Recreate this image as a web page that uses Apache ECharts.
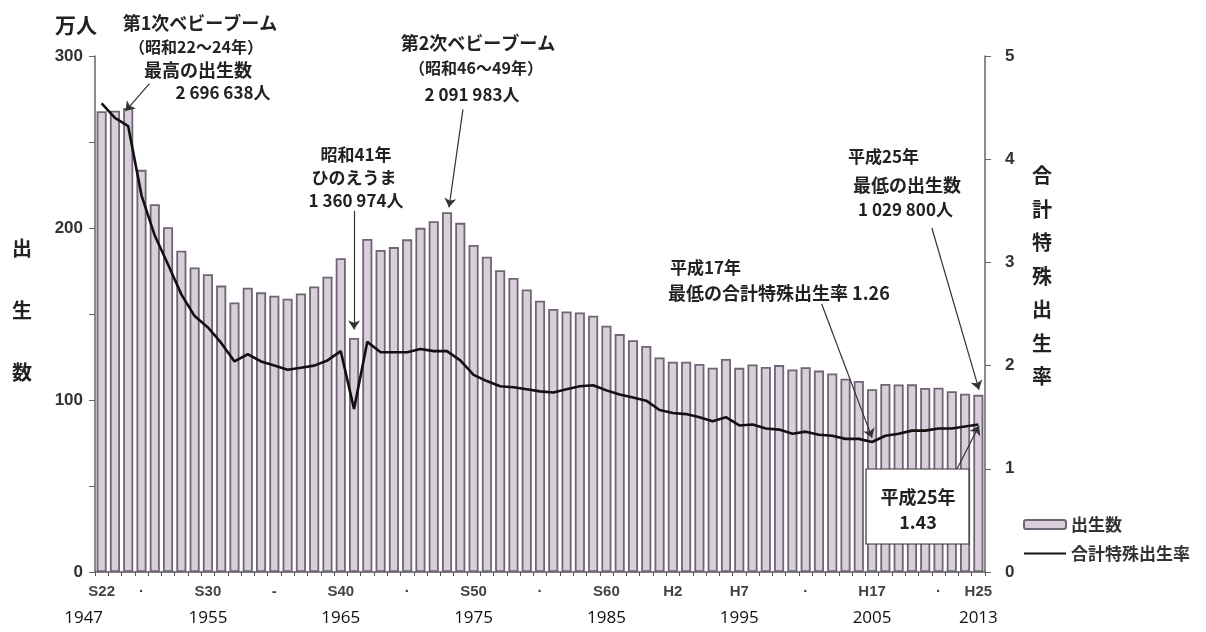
<!DOCTYPE html>
<html><head><meta charset="utf-8">
<script src="https://cdn.jsdelivr.net/npm/echarts@6/dist/echarts.min.js"></script>
<style>html,body{margin:0;padding:0;background:#fff}#c{width:1206px;height:632px}</style>
</head><body><div id="c"></div>
<script>
const years = ['1947','1948','1949','1950','1951','1952','1953','1954','1955','1956',
  '1957','1958','1959','1960','1961','1962','1963','1964','1965','1966',
  '1967','1968','1969','1970','1971','1972','1973','1974','1975','1976',
  '1977','1978','1979','1980','1981','1982','1983','1984','1985','1986',
  '1987','1988','1989','1990','1991','1992','1993','1994','1995','1996',
  '1997','1998','1999','2000','2001','2002','2003','2004','2005','2006',
  '2007','2008','2009','2010','2011','2012','2013'];
// 出生数（万人）
const births = [267.9,268.2,269.7,233.8,213.8,200.5,186.8,177.0,173.1,166.5,
  156.7,165.3,162.6,160.6,158.9,161.9,166.0,171.7,182.4,136.1,
  193.6,187.2,188.9,193.4,200.1,203.9,209.2,203.0,190.1,183.3,
  175.5,170.9,164.3,157.7,152.9,151.5,150.9,149.0,143.2,138.3,
  134.7,131.4,124.7,122.2,122.3,120.9,118.8,123.8,118.7,120.7,
  119.2,120.3,117.8,119.1,117.1,115.4,112.4,111.1,106.3,109.3,
  109.0,109.1,107.0,107.1,105.1,103.7,103.0];
// 合計特殊出生率
const tfr = [4.54,4.40,4.32,3.65,3.26,2.98,2.69,2.48,2.37,2.22,
  2.04,2.11,2.04,2.00,1.96,1.98,2.00,2.05,2.14,1.58,
  2.23,2.13,2.13,2.13,2.16,2.14,2.14,2.05,1.91,1.85,
  1.80,1.79,1.77,1.75,1.74,1.77,1.80,1.81,1.76,1.72,
  1.69,1.66,1.57,1.54,1.53,1.50,1.46,1.50,1.42,1.43,
  1.39,1.38,1.34,1.36,1.33,1.32,1.29,1.29,1.26,1.32,
  1.34,1.37,1.37,1.39,1.39,1.41,1.43];
const eraLabels = {'1947':'S22','1950':'·','1955':'S30','1960':'-','1965':'S40','1970':'·',
  '1975':'S50','1980':'·','1985':'S60','1990':'H2','1995':'H7','2000':'·','2005':'H17','2010':'·','2013':'H25'};
const yearLabels = {'1947':'1947','1955':'1955','1965':'1965','1975':'1975','1985':'1985',
  '1995':'1995','2005':'2005','2013':'2013'};
// annotation arrows: [fromYear, fromValue(万人), toYear, toValue(万人)]
const arrows = [
  [1950.6, 284, 1948.8, 268],
  [1974.2, 269, 1973.15, 212],
  [1966.0, 210, 1966.0, 141],
  [2001.2, 156, 2005.0, 78],
  [2009.5, 200, 2013.05, 106],
  [2011.4, 60, 2013.05, 85]
];

const CJK = '"Noto Sans CJK JP", sans-serif';
const texts = [
  ['万人', 76, 25, 21, 'center'],
  ['第1次ベビーブーム', 200, 23, 18, 'center'],
  ['（昭和22～24年）', 196, 47, 16, 'center'],
  ['最高の出生数', 198, 70, 18, 'center'],
  ['2 696 638人', 223, 93, 17, 'center'],
  ['第2次ベビーブーム', 478, 43, 18, 'center'],
  ['（昭和46～49年）', 476, 68, 16, 'center'],
  ['2 091 983人', 472, 95, 17, 'center'],
  ['昭和41年', 356, 155, 17, 'center'],
  ['ひのえうま', 354, 178, 17, 'center'],
  ['1 360 974人', 356, 201, 17, 'center'],
  ['平成17年', 670, 268, 17, 'left'],
  ['最低の合計特殊出生率 1.26', 668, 293, 18, 'left'],
  ['平成25年', 848, 157, 17, 'left'],
  ['最低の出生数', 853, 185, 18, 'left'],
  ['1 029 800人', 858, 210, 17, 'left'],
  ['出\n生\n数', 22, 310, 20, 'center', 62],
  ['合\n計\n特\n殊\n出\n生\n率', 1042, 276, 20, 'center', 33.5],
  ['平成25年', 918, 497, 18, 'center'],
  ['1.43', 918, 522, 18, 'center']
];

const graphic = [
  {type:'rect', z:100, shape:{x:866, y:469, width:103, height:75},
   style:{fill:'#fff', stroke:'#333', lineWidth:1.2}}
];
texts.forEach(t => {
  graphic.push({type:'text', z:101, x:t[1], y:t[2], style:{
    text:t[0], fontSize:t[3], fontWeight:'bold', fontFamily:CJK, fill:'#222',
    align:t[4], verticalAlign:'middle', lineHeight: t[5] || t[3]*1.2
  }});
});

const chart = echarts.init(document.getElementById('c'), null, {renderer:'canvas'});
chart.setOption({
  animation:false,
  backgroundColor:'#fff',
  grid:{left:95, right:221, top:56, bottom:60, containLabel:false},
  legend:{
    data:[{name:'出生数'}, {name:'合計特殊出生率', itemStyle:{opacity:0}}],
    orient:'vertical', left:1018, top:511,
    itemWidth:42, itemHeight:9, itemGap:12, selectedMode:false,
    textStyle:{fontSize:17, fontWeight:'bold', color:'#333', fontFamily:CJK}
  },
  xAxis:[
    {type:'category', data:years, boundaryGap:true,
     axisLine:{lineStyle:{color:'#555', width:1.5}},
     axisTick:{show:true, length:4, interval:0, lineStyle:{color:'#555'}},
     axisLabel:{
       interval:(i, v) => eraLabels[v] !== undefined,
       margin:10,
       formatter:(v) => '{e|' + eraLabels[v] + '}\n{' + (v === '1947' ? 'y0' : 'y') + '|' + (yearLabels[v] || '') + '}',
       rich:{
         e:{fontSize:15, fontWeight:'bold', color:'#444', fontFamily:'"Liberation Sans", Arial', lineHeight:20},
         y:{fontSize:17, color:'#111', fontFamily:'"Open Sans", sans-serif', lineHeight:32},
         y0:{fontSize:17, color:'#111', fontFamily:'"Open Sans", sans-serif', lineHeight:32, padding:[0,36,0,0]}
       }
     },
     splitLine:{show:false}},
    {type:'value', min:1946.5, max:2013.5, show:false}
  ],
  yAxis:[
    {type:'value', min:0, max:300, interval:50,
     axisLine:{show:true, lineStyle:{color:'#666', width:1.5}},
     axisTick:{show:true, length:6, lineStyle:{color:'#666'}},
     axisLabel:{formatter:(v) => (v % 100 === 0 ? String(v) : ''), fontSize:17, fontWeight:'bold',
       color:'#333', fontFamily:'"Liberation Sans", Arial', margin:12},
     splitLine:{show:false}},
    {type:'value', min:0, max:5, interval:1, position:'right',
     axisLine:{show:true, lineStyle:{color:'#666', width:1.5}},
     axisTick:{show:true, length:6, lineStyle:{color:'#666'}},
     axisLabel:{fontSize:17, fontWeight:'bold', color:'#333', fontFamily:'"Liberation Sans", Arial', margin:20},
     splitLine:{show:false}}
  ],
  series:[
    {type:'bar', name:'出生数', data:births, barCategoryGap:'24%',
     itemStyle:{color:'#d8cfda', borderColor:'#6f6574', borderWidth:1.8}},
    {type:'line', name:'合計特殊出生率', yAxisIndex:1, data:tfr, symbol:'none',
     lineStyle:{color:'#111', width:2.6}, itemStyle:{color:'#111'}, z:4},
    {type:'line', name:'annot', xAxisIndex:1, yAxisIndex:0, data:[], silent:true,
     markLine:{silent:true, symbol:['none','arrow'], symbolSize:9, label:{show:false},
       lineStyle:{color:'#333', width:1.2, type:'solid'},
       data: arrows.map(a => [{coord:[a[0], a[1]]}, {coord:[a[2], a[3]]}])}}
  ],
  graphic: graphic
});
</script></body></html>
